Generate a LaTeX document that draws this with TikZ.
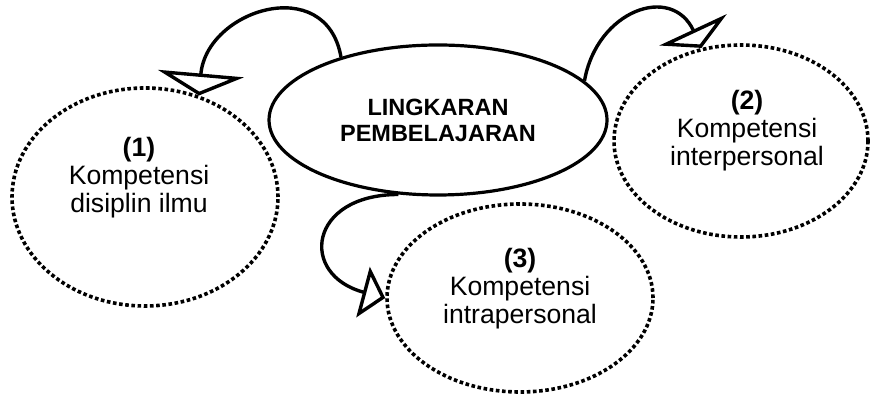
\documentclass[tikz,border=0pt]{standalone}
\usepackage{fontspec}
\setmainfont{Liberation Sans}
\usetikzlibrary{shapes.geometric,arrows.meta}

\begin{document}
\begin{tikzpicture}[x=0.5pt,y=0.5pt,
  kompetensi/.style={ellipse,draw,line width=1.8pt,dash pattern=on 1.8pt off 1.3pt,inner sep=0pt},
  teks/.style={align=center,inner sep=0pt,font=\fontsize{13.3}{14}\selectfont},
  panah/.style n args={2}{line width=1.7pt,-{Triangle[open,length=#1,width=#2]}}]
  \useasboundingbox (0,0) rectangle (870,394);
  % Lingkaran pembelajaran
  \node[ellipse,draw,line width=1.6pt,minimum width=169pt,minimum height=75pt,inner sep=0pt,
    align=center,font=\fontsize{11.75}{13}\selectfont\bfseries] (pusat) at (438,274)
    {LINGKARAN\\PEMBELAJARAN};
  % Kompetensi
  \node[kompetensi,minimum width=133pt,minimum height=109pt] (k1) at (145,197) {};
  \node[kompetensi,minimum width=127pt,minimum height=96pt] (k2) at (741,253) {};
  \node[kompetensi,minimum width=133pt,minimum height=94pt] (k3) at (520,96) {};
  \node[teks] (t1) at (139,216) {\textbf{(1)}\\Kompetensi\\disiplin ilmu};
  \node[teks] (t2) at (747,263) {\textbf{(2)}\\Kompetensi\\interpersonal};
  \node[teks] (t3) at (520,105) {\textbf{(3)}\\Kompetensi\\intrapersonal};
  % Panah
  \draw[panah={11pt}{43pt}] (pusat.147) to[out=100,in=85,looseness=1.5] (k1.62);
  \draw[panah={10pt}{37pt}] (pusat.15) to[out=80,in=115,looseness=1.5] (k2.113);
  \draw[panah={11.5pt}{26pt}] (pusat.242) to[out=180,in=165,looseness=2.2] (k3.west);
\end{tikzpicture}
\end{document}
